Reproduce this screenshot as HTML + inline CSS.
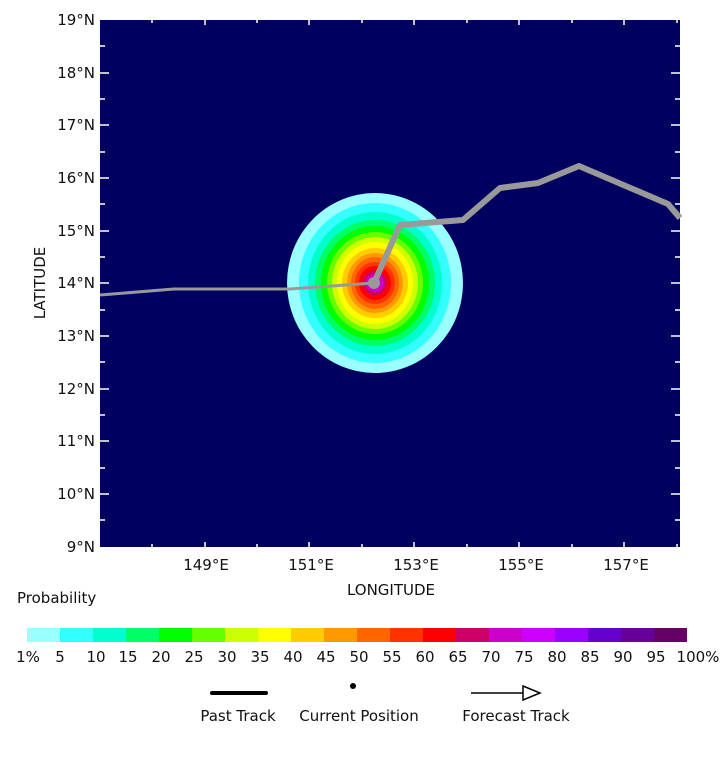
<!DOCTYPE html>
<html><head><meta charset="utf-8"><style>
body{margin:0;background:#fff;width:720px;height:757px;overflow:hidden}
text{font-family:"DejaVu Sans","Liberation Sans",sans-serif;fill:#111}
</style></head><body>
<svg width="720" height="757" xmlns="http://www.w3.org/2000/svg">
<rect x="100" y="20" width="580" height="527" fill="#000060"/>
<g transform="translate(375,283)">
<ellipse rx="88" ry="90" fill="#99ffff"/>
<ellipse rx="76" ry="80" fill="#33ffff"/>
<ellipse rx="67" ry="71" fill="#00ffcc"/>
<ellipse rx="60" ry="63" fill="#00ff66"/>
<ellipse rx="54" ry="57" fill="#00ff00"/>
<ellipse rx="48" ry="51" fill="#66ff00"/>
<ellipse rx="43" ry="46" fill="#ccff00"/>
<ellipse rx="38" ry="41" fill="#ffff00"/>
<ellipse rx="33" ry="35" fill="#ffcc00"/>
<ellipse rx="28" ry="30" fill="#ff9900"/>
<ellipse rx="24" ry="26" fill="#ff6600"/>
<ellipse rx="20" ry="21" fill="#ff3300"/>
<ellipse rx="16" ry="17" fill="#ff0000"/>
<ellipse rx="12" ry="12" fill="#cc0066"/>
<ellipse rx="9" ry="9" fill="#cc00cc"/>
</g>
<polyline points="100,295 174,289 290,289 374,283" fill="none" stroke="#999" stroke-width="3"/>
<polyline points="374,283 400,225 463,220 500,188 538,183 579,166 668,204 680,218" fill="none" stroke="#999" stroke-width="6" stroke-linejoin="round"/>
<circle cx="374" cy="283" r="6" fill="#999"/>
<g stroke="#fff" stroke-width="1.5">
<path d="M100,73h9M100,125h9M100,178h9M100,231h9M100,283h9M100,336h9M100,389h9M100,441h9M100,494h9
M680,73h-9M680,125h-9M680,178h-9M680,231h-9M680,283h-9M680,336h-9M680,389h-9M680,441h-9M680,494h-9
M100,46h5M100,99h5M100,152h5M100,204h5M100,257h5M100,310h5M100,362h5M100,415h5M100,468h5M100,520h5
M680,46h-5M680,99h-5M680,152h-5M680,204h-5M680,257h-5M680,310h-5M680,362h-5M680,415h-5M680,468h-5M680,520h-5
M152,547v-3M205,547v-5M257,547v-3M309,547v-5M362,547v-3M414,547v-5M467,547v-3M519,547v-5M572,547v-3M624,547v-5M677,547v-3
M152,20v3M205,20v5M257,20v3M309,20v5M362,20v3M414,20v5M467,20v3M519,20v5M572,20v3M624,20v5M677,20v3"/>
</g>
<g font-size="15" text-anchor="end">
<text x="95" y="25">19°N</text><text x="95" y="78">18°N</text><text x="95" y="130">17°N</text>
<text x="95" y="183">16°N</text><text x="95" y="236">15°N</text><text x="95" y="288">14°N</text>
<text x="95" y="341">13°N</text><text x="95" y="394">12°N</text><text x="95" y="446">11°N</text>
<text x="95" y="499">10°N</text><text x="95" y="552">9°N</text>
</g>
<g font-size="15" text-anchor="middle">
<text x="206" y="570">149°E</text><text x="311" y="570">151°E</text><text x="416" y="570">153°E</text>
<text x="521" y="570">155°E</text><text x="626" y="570">157°E</text>
<text x="391" y="595">LONGITUDE</text>
<text transform="translate(45,283) rotate(-90)">LATITUDE</text>
</g>
<text x="17" y="603" font-size="15">Probability</text>
<g>
<rect x="27" y="628" width="33" height="14" fill="#99ffff"/>
<rect x="60" y="628" width="33" height="14" fill="#33ffff"/>
<rect x="93" y="628" width="33" height="14" fill="#00ffcc"/>
<rect x="126" y="628" width="33" height="14" fill="#00ff66"/>
<rect x="159" y="628" width="33" height="14" fill="#00ff00"/>
<rect x="192" y="628" width="33" height="14" fill="#66ff00"/>
<rect x="225" y="628" width="33" height="14" fill="#ccff00"/>
<rect x="258" y="628" width="33" height="14" fill="#ffff00"/>
<rect x="291" y="628" width="33" height="14" fill="#ffcc00"/>
<rect x="324" y="628" width="33" height="14" fill="#ff9900"/>
<rect x="357" y="628" width="33" height="14" fill="#ff6600"/>
<rect x="390" y="628" width="33" height="14" fill="#ff3300"/>
<rect x="423" y="628" width="33" height="14" fill="#ff0000"/>
<rect x="456" y="628" width="33" height="14" fill="#cc0066"/>
<rect x="489" y="628" width="33" height="14" fill="#cc00cc"/>
<rect x="522" y="628" width="33" height="14" fill="#cc00ff"/>
<rect x="555" y="628" width="33" height="14" fill="#9900ff"/>
<rect x="588" y="628" width="33" height="14" fill="#6600cc"/>
<rect x="621" y="628" width="33" height="14" fill="#660099"/>
<rect x="654" y="628" width="33" height="14" fill="#660066"/>
</g>
<g font-size="15" text-anchor="middle">
<text x="28" y="662">1%</text><text x="60" y="662">5</text><text x="96" y="662">10</text>
<text x="128" y="662">15</text><text x="161" y="662">20</text><text x="194" y="662">25</text>
<text x="227" y="662">30</text><text x="260" y="662">35</text><text x="293" y="662">40</text>
<text x="326" y="662">45</text><text x="359" y="662">50</text><text x="392" y="662">55</text>
<text x="425" y="662">60</text><text x="458" y="662">65</text><text x="491" y="662">70</text>
<text x="524" y="662">75</text><text x="557" y="662">80</text><text x="590" y="662">85</text>
<text x="623" y="662">90</text><text x="656" y="662">95</text><text x="698" y="662">100%</text>
</g>
<line x1="212" y1="693" x2="266" y2="693" stroke="#000" stroke-width="4" stroke-linecap="round"/>
<circle cx="353" cy="686" r="3" fill="#000"/>
<line x1="471" y1="693" x2="530" y2="693" stroke="#000" stroke-width="1.5"/>
<polygon points="523,686 540,693 523,700" fill="#fff" stroke="#000" stroke-width="1.5"/>
<g font-size="15" text-anchor="middle">
<text x="238" y="721">Past Track</text>
<text x="359" y="721">Current Position</text>
<text x="516" y="721">Forecast Track</text>
</g>
</svg>
</body></html>
